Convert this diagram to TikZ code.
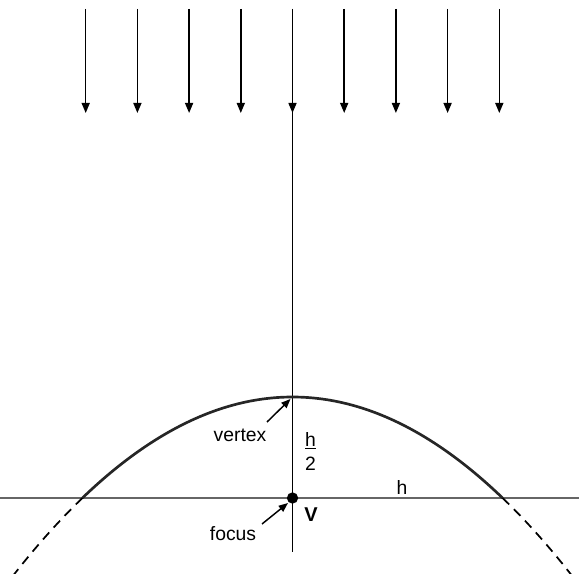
\documentclass[tikz,border=0pt]{standalone}
\usepackage{fontspec}
\setmainfont{Liberation Sans}
\usetikzlibrary{arrows.meta}
\begin{document}
\begin{tikzpicture}[x=0.75pt,y=-0.75pt,
  ray/.style={line width=1.1pt,-{Triangle[length=7.5pt,width=6pt]}},
  axis/.style={line width=1.1pt},
  pointer/.style={line width=1.1pt,-{Triangle[length=7pt,width=5.5pt]}},
  lbl/.style={font=\fontsize{14.5}{16}\selectfont,inner sep=0pt},
  curve/.style={line width=2pt,black!85},
  dashcurve/.style={line width=1.3pt,dash pattern=on 7pt off 5pt}]
\useasboundingbox (0,0) rectangle (579,574);
% incoming rays
\foreach \i in {0,...,8}{
  \coordinate (t\i) at ({85.7+51.7*\i},9);
  \coordinate (b\i) at ({85.7+51.7*\i},113);
  \draw[ray] (t\i) -- (b\i);
}
% axis
\coordinate (axtop) at (292.5,9);
\coordinate (axbot) at (292.5,552);
\draw[axis] (axtop) -- (axbot);
% horizontal line
\coordinate (hl) at (0,498);
\coordinate (hr) at (579,498);
\draw[line width=0.8pt,black!60] (hl) -- (hr);
% parabola
\draw[curve] plot[domain=-21:21,samples=120,smooth] ({292.5+10*\x},{397+\x*\x/4.37});
\draw[dashcurve] plot[domain=-21:-28,samples=30,smooth] ({292.5+10*\x},{397+\x*\x/4.37});
\draw[dashcurve] plot[domain=21:28.2,samples=30,smooth] ({292.5+10*\x},{397+\x*\x/4.37});
% points
\coordinate (vtx) at (290.5,399);
\node[circle,fill=black,inner sep=0pt,minimum size=8.5pt] (focpt) at (292.5,498) {};
% labels
\node[lbl] (vertex) at (240,435) {vertex};
\node[lbl] (hnum) at (310.5,441) {\underline{h}};
\node[lbl] (hden) at (310.5,464) {2};
\node[lbl,font=\fontsize{15}{16}\selectfont\bfseries] (V) at (311,515) {V};
\node[lbl] (focus) at (233,534) {focus};
\node[lbl] (h) at (402,487) {h};
\coordinate (vtail) at (267,422);
\coordinate (ftail) at (262,524);
\coordinate (fhead) at (288,503);
\draw[pointer] (vtail) -- (vtx);
\draw[pointer] (ftail) -- (fhead);
\end{tikzpicture}
\end{document}
